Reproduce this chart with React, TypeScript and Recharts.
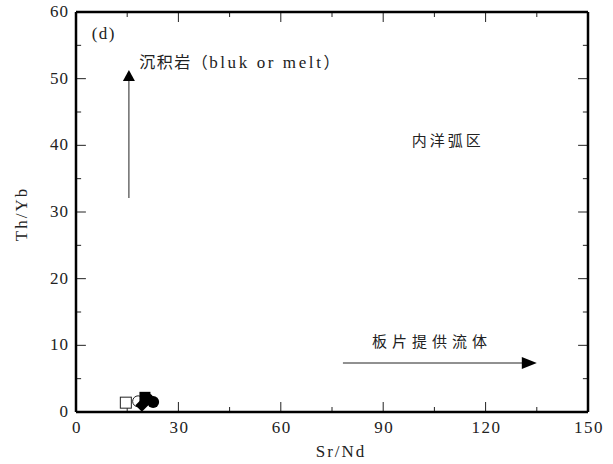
import React from 'react';
import { ScatterChart, Scatter, XAxis, YAxis, ReferenceLine, ReferenceDot } from 'recharts';

// ---- data ----
const openSquare = [{ x: 14.6, y: 1.4 }];
const openCircle = [{ x: 18.2, y: 1.6 }];
const filledDiamond = [{ x: 19.3, y: 1.0 }];
const filledSquare = [{ x: 20.2, y: 2.2 }];
const filledCircle = [{ x: 21.0, y: 1.9 }, { x: 22.6, y: 1.5 }];

const xTicks = [0, 30, 60, 90, 120, 150];
const xMinor = [15, 45, 75, 105, 135];
const yTicks = [0, 10, 20, 30, 40, 50, 60];
const yMinor = [5, 15, 25, 35, 45, 55];

const X_MAX = 150;
const Y_MAX = 60;

// annotation anchors (data coords)
const vArrow = { x: 15.5, y0: 32.1, y1: 51.3 };
const hArrow = { y: 7.35, x0: 78.2, x1: 135 };
const labelD = { x: 4.6, y: 56.0, text: '(d)' };
const labelSed = { x: 18.5, y: 51.6 };
const labelArc = { x: 98.4, y: 39.9, text: '内洋弧区' };
const labelSlab = { x: 86.7, y: 9.75, text: '板片提供流体' };

const FONT = '"Liberation Serif", "Noto Sans CJK SC", serif';
const CJK = '"Noto Sans CJK SC", "Liberation Serif", serif';

const XTick = (p: any) => (
  <text x={p.x + 1} y={p.y} dy={21} textAnchor="middle" fontFamily={FONT} fontSize={17} letterSpacing={1.5} fill="#222">
    {p.payload.value}
  </text>
);
const YTick = (p: any) => (
  <text x={p.x - 7} y={p.y} dy={5} textAnchor="end" fontFamily={FONT} fontSize={17} letterSpacing={1} fill="#222">
    {p.payload.value}
  </text>
);

const YTitle = (p: any) => {
  const vb = p.viewBox || { x: 0, y: 12, width: 76, height: 400 };
  const cx = vb.x + 21;
  const cy = vb.y + vb.height / 2 + 2;
  return (
    <text x={cx} y={cy} transform={`rotate(-90 ${cx} ${cy})`} textAnchor="middle" dominantBaseline="central"
      fontFamily={FONT} fontSize={17} letterSpacing={2} fill="#222">Th/Yb</text>
  );
};
const XTitle = (p: any) => {
  const vb = p.viewBox || { x: 76, y: 412, width: 512, height: 52 };
  const cx = vb.x + vb.width / 2 + 9;
  const cy = vb.y + 45;
  return (
    <text x={cx} y={cy} textAnchor="middle" fontFamily={FONT} fontSize={17} letterSpacing={2} fill="#222">Sr/Nd</text>
  );
};

const OpenSquare = (p: any) => (
  <rect x={p.cx - 5.5} y={p.cy - 5.5} width={11} height={11} fill="#fff" stroke="#222" strokeWidth={1} />
);
const OpenCircle = (p: any) => (
  <circle cx={p.cx} cy={p.cy} r={5.5} fill="#fff" stroke="#222" strokeWidth={1} />
);
const FilledSquare = (p: any) => (
  <rect x={p.cx - 5.5} y={p.cy - 5.5} width={11} height={11} fill="#000" />
);
const FilledDiamond = (p: any) => (
  <polygon points={`${p.cx},${p.cy - 6.5} ${p.cx + 6.5},${p.cy} ${p.cx},${p.cy + 6.5} ${p.cx - 6.5},${p.cy}`} fill="#000" />
);
const FilledCircle = (p: any) => <circle cx={p.cx} cy={p.cy} r={6} fill="#000" />;

const UpHead = (p: any) => (
  <polygon points={`${p.cx},${p.cy} ${p.cx + 6},${p.cy + 11} ${p.cx - 6},${p.cy + 11}`} fill="#000" />
);
const RightHead = (p: any) => (
  <polygon points={`${p.cx},${p.cy} ${p.cx - 15},${p.cy - 6} ${p.cx - 15},${p.cy + 6}`} fill="#000" />
);

const makeText = (text: string, family: string, size: number, spacing: number) => (p: any) => (
  <text x={p.cx} y={p.cy} fontFamily={family} fontSize={size} fill="#222" letterSpacing={spacing}>
    {text}
  </text>
);

const SedText = (p: any) => (
  <text x={p.cx} y={p.cy} fontSize={16} fill="#222" fontFamily={CJK}>
    <tspan fontFamily={CJK} letterSpacing={1.5}>沉积岩（</tspan>
    <tspan fontFamily={FONT} fontSize={17} letterSpacing={2.6}>bluk or melt</tspan>
    <tspan fontFamily={CJK}>）</tspan>
  </text>
);

export default function App() {
  const tickStroke = { stroke: '#222', strokeWidth: 1 };
  const xMajLen = 1.5, xMinLen = 0.75; // in y units
  const yMajLen = 2.9, yMinLen = 1.5; // in x units
  return (
    <div style={{ position: 'absolute', left: 0, top: 0, width: 613, height: 464, background: '#fff' }}>
      <ScatterChart width={613} height={464} margin={{ top: 12, right: 25, bottom: 0, left: 0 }}>
        <XAxis type="number" dataKey="x" domain={[0, X_MAX]} ticks={xTicks} allowDataOverflow
          axisLine={false} tickLine={false} tickSize={0} tickMargin={0} height={52} tick={<XTick />} label={<XTitle />} />
        <YAxis type="number" dataKey="y" domain={[0, Y_MAX]} ticks={yTicks} allowDataOverflow
          axisLine={false} tickLine={false} tickSize={0} tickMargin={0} width={76} tick={<YTick />} label={<YTitle />} />

        {xTicks.slice(1, -1).map((v) => (
          <ReferenceLine key={'xb' + v} segment={[{ x: v, y: 0 }, { x: v, y: xMajLen }]} {...tickStroke} ifOverflow="visible" />
        ))}
        {xTicks.slice(1, -1).map((v) => (
          <ReferenceLine key={'xt' + v} segment={[{ x: v, y: Y_MAX }, { x: v, y: Y_MAX - xMajLen }]} {...tickStroke} ifOverflow="visible" />
        ))}
        {xMinor.map((v) => (
          <ReferenceLine key={'xbm' + v} segment={[{ x: v, y: 0 }, { x: v, y: xMinLen }]} {...tickStroke} ifOverflow="visible" />
        ))}
        {xMinor.map((v) => (
          <ReferenceLine key={'xtm' + v} segment={[{ x: v, y: Y_MAX }, { x: v, y: Y_MAX - xMinLen }]} {...tickStroke} ifOverflow="visible" />
        ))}
        {yTicks.slice(1, -1).map((v) => (
          <ReferenceLine key={'yl' + v} segment={[{ x: 0, y: v }, { x: yMajLen, y: v }]} {...tickStroke} ifOverflow="visible" />
        ))}
        {yTicks.slice(1, -1).map((v) => (
          <ReferenceLine key={'yr' + v} segment={[{ x: X_MAX, y: v }, { x: X_MAX - yMajLen, y: v }]} {...tickStroke} ifOverflow="visible" />
        ))}
        {yMinor.map((v) => (
          <ReferenceLine key={'ylm' + v} segment={[{ x: 0, y: v }, { x: yMinLen, y: v }]} {...tickStroke} ifOverflow="visible" />
        ))}
        {yMinor.map((v) => (
          <ReferenceLine key={'yrm' + v} segment={[{ x: X_MAX, y: v }, { x: X_MAX - yMinLen, y: v }]} {...tickStroke} ifOverflow="visible" />
        ))}

        {/* arrows */}
        <ReferenceLine segment={[{ x: vArrow.x, y: vArrow.y0 }, { x: vArrow.x, y: vArrow.y1 - 1.5 }]} stroke="#222" strokeWidth={1} ifOverflow="visible" />
        <ReferenceDot x={vArrow.x} y={vArrow.y1} r={0} shape={<UpHead />} ifOverflow="visible" />
        <ReferenceLine segment={[{ x: hArrow.x0, y: hArrow.y }, { x: hArrow.x1 - 4, y: hArrow.y }]} stroke="#222" strokeWidth={1} ifOverflow="visible" />
        <ReferenceDot x={hArrow.x1} y={hArrow.y} r={0} shape={<RightHead />} ifOverflow="visible" />

        {/* labels */}
        <ReferenceDot x={labelD.x} y={labelD.y} r={0} shape={makeText(labelD.text, FONT, 17, 1.5)} ifOverflow="visible" />
        <ReferenceDot x={labelSed.x} y={labelSed.y} r={0} shape={<SedText />} ifOverflow="visible" />
        <ReferenceDot x={labelArc.x} y={labelArc.y} r={0} shape={makeText(labelArc.text, CJK, 15, 3)} ifOverflow="visible" />
        <ReferenceDot x={labelSlab.x} y={labelSlab.y} r={0} shape={makeText(labelSlab.text, CJK, 15, 5)} ifOverflow="visible" />

        <Scatter data={openSquare} shape={<OpenSquare />} isAnimationActive={false} />
        <Scatter data={openCircle} shape={<OpenCircle />} isAnimationActive={false} />
        <Scatter data={filledCircle} shape={<FilledCircle />} isAnimationActive={false} />
        <Scatter data={filledSquare} shape={<FilledSquare />} isAnimationActive={false} />
        <Scatter data={filledDiamond} shape={<FilledDiamond />} isAnimationActive={false} />

        {/* frame */}
        <ReferenceLine x={0} stroke="#000" strokeWidth={2.5} ifOverflow="visible" />
        <ReferenceLine x={X_MAX} stroke="#000" strokeWidth={2.5} ifOverflow="visible" />
        <ReferenceLine y={0} stroke="#000" strokeWidth={2.5} ifOverflow="visible" />
        <ReferenceLine y={Y_MAX} stroke="#000" strokeWidth={2.5} ifOverflow="visible" />
      </ScatterChart>
    </div>
  );
}
